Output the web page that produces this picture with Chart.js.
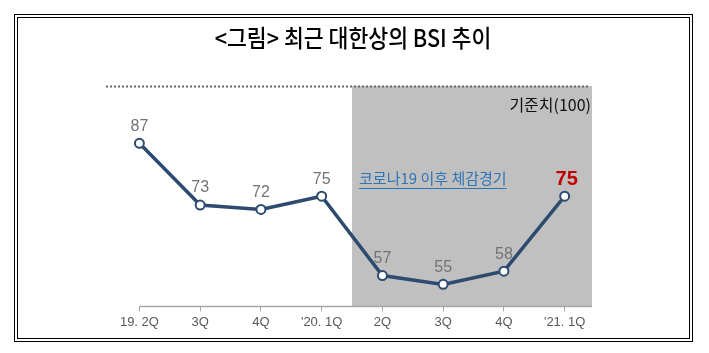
<!DOCTYPE html>
<html>
<head>
<meta charset="utf-8">
<script src="https://cdn.jsdelivr.net/npm/chart.js"></script>
<style>
  html, body { margin: 0; padding: 0; background: #fff; }
</style>
</head>
<body>
<canvas id="myChart" width="709" height="353"></canvas>
<script>
// data
var quarters = ["19. 2Q", "3Q", "4Q", "'20. 1Q", "2Q", "3Q", "4Q", "'21. 1Q"];
var bsi = [87, 73, 72, 75, 57, 55, 58, 75];
var baseline = 100;
var covidFrom = 3.5;   // shaded area starts between '20.1Q and 2Q
var titleText = "<그림> 최근 대한상의 BSI 추이";
var baselineText = "기준치(100)";
var covidText = "코로나19 이후 체감경기";

var lineColor = '#2d4a6f';
var krFont = '"Noto Sans CJK KR", "Noto Sans", sans-serif';

var decor = {
  id: 'decor',
  beforeDraw: function (chart) {
    var ctx = chart.ctx;
    ctx.save();
    ctx.fillStyle = '#fff';
    ctx.fillRect(0, 0, chart.width, chart.height);
    // double frame
    ctx.strokeStyle = '#000';
    ctx.lineWidth = 1;
    ctx.strokeRect(14.5, 14.5, 678, 327);
    ctx.strokeRect(17.5, 17.5, 672, 321);
    // title, a little condensed like the original
    ctx.translate(353, 38);
    ctx.scale(0.9, 1);
    ctx.fillStyle = '#000';
    ctx.font = '500 24px ' + krFont;
    ctx.textAlign = 'center';
    ctx.textBaseline = 'middle';
    ctx.fillText(titleText, 0, 0);
    ctx.restore();
  },
  beforeDatasetsDraw: function (chart) {
    var ctx = chart.ctx, area = chart.chartArea;
    var x = chart.scales.x, y = chart.scales.y;
    ctx.save();
    // covid period shading
    var sx = x.getPixelForValue(covidFrom);
    var top = y.getPixelForValue(baseline);
    ctx.fillStyle = '#c0c0c0';
    ctx.fillRect(sx, top, area.right - sx, area.bottom - top);
    // baseline dotted line
    var by = Math.round(top) + 0.5;
    ctx.strokeStyle = '#6a6a6a';
    ctx.lineWidth = 2;
    ctx.setLineDash([2, 2]);
    ctx.beginPath();
    ctx.moveTo(area.left, by);
    ctx.lineTo(area.right - 2, by);
    ctx.stroke();
    ctx.setLineDash([]);
    // axis line from first category
    ctx.strokeStyle = '#a6a6a6';
    ctx.lineWidth = 1.5;
    ctx.beginPath();
    ctx.moveTo(x.getPixelForValue(0), area.bottom);
    ctx.lineTo(area.right, area.bottom);
    ctx.stroke();
    // labels
    ctx.font = '16px ' + krFont;
    ctx.fillStyle = '#111';
    ctx.textAlign = 'right';
    ctx.textBaseline = 'middle';
    ctx.fillText(baselineText, area.right - 1, by + 18);

    ctx.font = '15px ' + krFont;
    ctx.fillStyle = '#2e75b6';
    ctx.textAlign = 'left';
    var tx = sx + 7, ty = y.getPixelForValue(79);
    ctx.fillText(covidText, tx, ty);
    var w = ctx.measureText(covidText).width;
    ctx.strokeStyle = '#2e75b6';
    ctx.lineWidth = 1;
    ctx.beginPath();
    ctx.moveTo(tx, Math.round(ty + 9) + 0.5);
    ctx.lineTo(tx + w, Math.round(ty + 9) + 0.5);
    ctx.stroke();
    ctx.restore();
  },
  afterDatasetsDraw: function (chart) {
    var ctx = chart.ctx;
    var pts = chart.getDatasetMeta(0).data;
    ctx.save();
    ctx.textAlign = 'center';
    ctx.textBaseline = 'middle';
    pts.forEach(function (p, i) {
      var last = i === pts.length - 1;
      ctx.font = last ? 'bold 20px Arial, "Liberation Sans", sans-serif' : '16px Arial, "Liberation Sans", sans-serif';
      ctx.fillStyle = last ? '#c00000' : '#737373';
      ctx.fillText(String(bsi[i]), p.x + (last ? 2 : 0), p.y - 17);
    });
    ctx.restore();
  }
};

var ctx = document.getElementById('myChart').getContext('2d');
var chart = new Chart(ctx, {
  type: 'line',
  data: {
    datasets: [{
      data: bsi.map(function (v, i) { return { x: i, y: v }; }),
      borderColor: lineColor,
      borderWidth: 3.5,
      pointRadius: 4.5,
      pointBorderWidth: 2,
      pointBackgroundColor: '#fff',
      pointBorderColor: lineColor,
      tension: 0
    }]
  },
  options: {
    responsive: false,
    animation: false,
    layout: {
      padding: { left: 106, right: 117, top: 86, bottom: 20 }
    },
    plugins: {
      legend: { display: false },
      tooltip: { enabled: false }
    },
    scales: {
      x: {
        type: 'linear',
        min: -0.55,
        max: 7.45,
        afterBuildTicks: function (scale) {
          scale.ticks = quarters.map(function (q, i) { return { value: i }; });
        },
        border: { display: false },
        grid: { drawOnChartArea: false, drawTicks: true, tickLength: 5, color: '#a6a6a6' },
        ticks: {
          autoSkip: false,
          maxRotation: 0,
          padding: 3,
          color: '#595959',
          font: { family: 'Arial, "Liberation Sans", sans-serif', size: 13 },
          callback: function (v) { return quarters[v]; }
        }
      },
      y: {
        display: false,
        min: 50,
        max: 100
      }
    }
  },
  plugins: [decor]
});
</script>
</body>
</html>
